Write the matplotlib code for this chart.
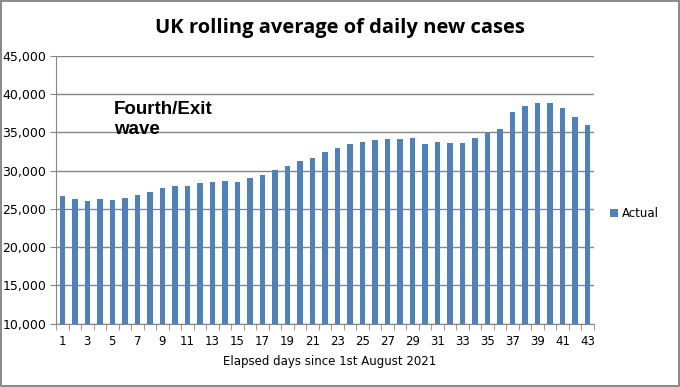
import numpy as np
import matplotlib.pyplot as plt
from matplotlib.ticker import FuncFormatter, MultipleLocator

# data
days = list(range(1, 44))
cases = [26700, 26300, 26000, 26300, 26200, 26400, 26800, 27200, 27750, 28000,
         28000, 28400, 28550, 28700, 28550, 29100, 29450, 30100, 30600, 31300,
         31700, 32450, 33000, 33500, 33800, 34000, 34200, 34200, 34300, 33500,
         33800, 33650, 33650, 34300, 34900, 35500, 37700, 38400, 38900, 38900,
         38250, 37050, 36000]
series_name = "Actual"
title = "UK rolling average of daily new cases"
xlabel = "Elapsed days since 1st August 2021"
note = "Fourth/Exit\nwave"

bar_color = "#4f81bd"
grid_color = "#868686"

fig = plt.figure(figsize=(6.8, 3.87), dpi=100, linewidth=1.5, edgecolor="#8c8c8c")
fig.patch.set_facecolor("white")

ax = fig.add_axes([56 / 680, 1 - 323.5 / 387, (594 - 56) / 680, (323.5 - 56) / 387])

x = np.arange(len(days))
ax.bar(x, cases, width=0.44, color=bar_color, label=series_name, zorder=3)

ax.set_ylim(10000, 45000)
ax.set_xlim(-0.5, len(days) - 0.5)
ax.yaxis.set_major_locator(MultipleLocator(5000))
ax.yaxis.set_major_formatter(FuncFormatter(lambda v, p: f"{int(v):,}"))
ax.grid(axis="y", color=grid_color, linewidth=1, zorder=0)

ax.set_xticks(x[::2])
ax.set_xticklabels([str(d) for d in days[::2]], fontsize=8.5, family="DejaVu Sans")
ax.set_xticks(np.arange(-0.5, len(days)), minor=True)
ax.tick_params(axis="x", which="major", length=0, pad=8)
ax.tick_params(axis="x", which="minor", length=4, color=grid_color, direction="out")
ax.tick_params(axis="y", length=4, color=grid_color, labelsize=9, pad=3)

for side in ["top", "right"]:
    ax.spines[side].set_visible(False)
for side in ["left", "bottom"]:
    ax.spines[side].set_color(grid_color)

fig.text(340 / 680, 1 - 28 / 387, title, ha="center", va="center",
         fontsize=14.5, fontweight="bold", family="Open Sans")
fig.text(330 / 680, 1 - 362 / 387, xlabel, ha="center", va="center",
         fontsize=8.5, family="DejaVu Sans")
ax.text(0.108, 0.83, note, transform=ax.transAxes, ha="left", va="top",
        fontsize=13.5, fontweight="bold", family="Liberation Sans", linespacing=1.2)

ax.legend(loc="center left", bbox_to_anchor=(1.01, 0.41), frameon=False,
          fontsize=8.5, handlelength=0.7, handleheight=0.7, handletextpad=0.3)

fig.savefig("out.png", dpi=100, facecolor=fig.get_facecolor(), edgecolor=fig.get_edgecolor())
